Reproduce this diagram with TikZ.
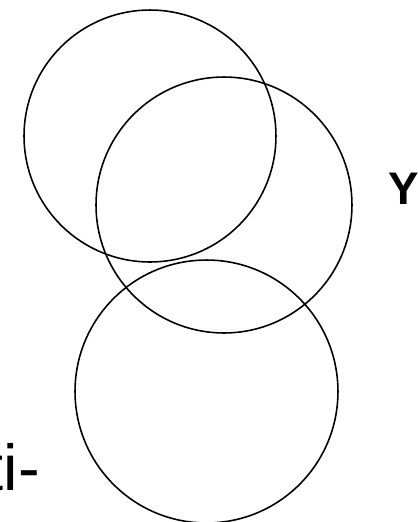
\documentclass[tikz,border=0pt]{standalone}
\usepackage{fontspec}
\setmainfont{Liberation Sans}
\usetikzlibrary{positioning}

\tikzset{
  ring/.style={circle, draw=black, line width=0.9pt, inner sep=0pt},
  lbl/.style={inner sep=0pt, anchor=base west}
}

\begin{document}
\begin{tikzpicture}[x=0.02cm, y=-0.02cm]
  \useasboundingbox (0,0) rectangle (417,522);
  % Kreise
  \node[ring, minimum size=5.04cm] (top) at (150,136) {};
  \node[ring, minimum size=5.12cm] (mid) at (224,205) {};
  \node[ring, minimum size=5.26cm] (low) at (206.5,391.5) {};
  % Beschriftungen
  \node[lbl, font=\fontsize{26}{30}\selectfont\bfseries] (ylab) at (388,204) {Y};
  \node[lbl, font=\fontsize{37}{44}\selectfont] (cut) at (-14.5,490) {ti-};
\end{tikzpicture}
\end{document}
